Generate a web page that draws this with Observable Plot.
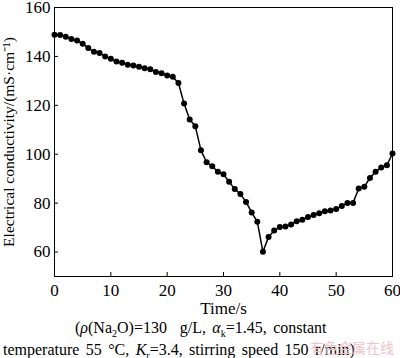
<!DOCTYPE html>
<html>
<head>
<meta charset="utf-8">
<script src="https://cdn.jsdelivr.net/npm/d3@7"></script>
<script src="https://cdn.jsdelivr.net/npm/@observablehq/plot@0.6"></script>
<style>
  html, body { margin: 0; padding: 0; background: #fff; }
  body { width: 400px; height: 358px; overflow: hidden; position: relative; font-family: "Liberation Serif", "DejaVu Serif", serif; }
  #chart svg { display: block; }
  .cap { position: absolute; font-size: 16px; color: #000; white-space: nowrap; line-height: 1; word-spacing: 2.4px; }
  .cap sub { font-size: 10px; }
  .wm { position: absolute; font-family: "Noto Sans CJK SC", sans-serif; font-size: 14px; color: #f2c4c8; white-space: nowrap; line-height: 1; }
</style>
</head>
<body>
<div id="chart"></div>
<div class="cap" style="left:75px; top:320px;">(<i>ρ</i>(Na<sub>2</sub>O)=130&nbsp; g/L, <i>α</i><sub>k</sub>=1.45, constant</div>
<div class="cap" style="left:3px; top:342px;">temperature 55 °C, <i>K</i><sub>r</sub>=3.4, stirring speed 150 r/min)</div>
<div class="wm" style="left:310px; top:340px;">有色金属在线</div>
<script>
const times = [0,1,2,3,4,5,6,7,8,9,10,11,12,13,14,15,16,17,18,19,20,21,22,23,24,25,26,27,28,29,30,31,32,33,34,35,36,37,38,39,40,41,42,43,44,45,46,47,48,49,50,51,52,53,54,55,56,57,58,59,60];
const conductivity = [148.9,148.8,148.0,147.1,146.5,145.2,143.4,141.9,141.4,140.0,
  139.0,137.9,137.4,136.6,136.3,135.8,135.2,134.7,133.6,133.1,
  132.2,131.7,129.1,120.7,114.2,111.4,101.6,96.7,95.1,92.8,
  91.8,88.7,85.8,83.7,80.5,76.2,72.4,60.1,66.2,68.8,
  70.2,70.4,71.3,72.6,73.2,74.3,75.1,75.9,76.7,77.0,
  77.6,78.8,80.1,80.1,86.0,86.7,90.3,92.8,94.6,95.5,
  100.3];
const xTicks = [0,10,20,30,40,50,60];
const yTicks = [60,80,100,120,140,160];

const data = times.map((t, i) => ({t, v: conductivity[i]}));

const chart = Plot.plot({
  width: 400,
  height: 316,
  marginTop: 7,
  marginBottom: 40,
  marginLeft: 54,
  marginRight: 8,
  style: {fontFamily: "Liberation Serif, serif", fontSize: "17px", color: "#000", background: "#fff", overflow: "visible"},
  x: {domain: [0, 60]},
  y: {domain: [50, 160]},
  marks: [
    Plot.frame({stroke: "#000", strokeWidth: 1}),
    Plot.axisX(xTicks, {tickSize: -4, tickPadding: 11, stroke: "#000", fontSize: 17, label: "Time/s", labelAnchor: "center", labelArrow: "none", labelOffset: 37}),
    Plot.axisY(yTicks, {tickSize: -4, tickPadding: 8, stroke: "#000", fontSize: 17, label: null}),
    Plot.axisY([], {tickSize: 0, fontSize: 15.5, label: "Electrical conductivity/(mS·cm⁻¹)", labelAnchor: "center", labelArrow: "none", labelOffset: 52}),
    Plot.line(data, {x: "t", y: "v", stroke: "#000", strokeWidth: 1.5}),
    Plot.dot(data, {x: "t", y: "v", r: 3, fill: "#000", stroke: "none"})
  ]
});
document.getElementById("chart").appendChild(chart);
</script>
</body>
</html>
